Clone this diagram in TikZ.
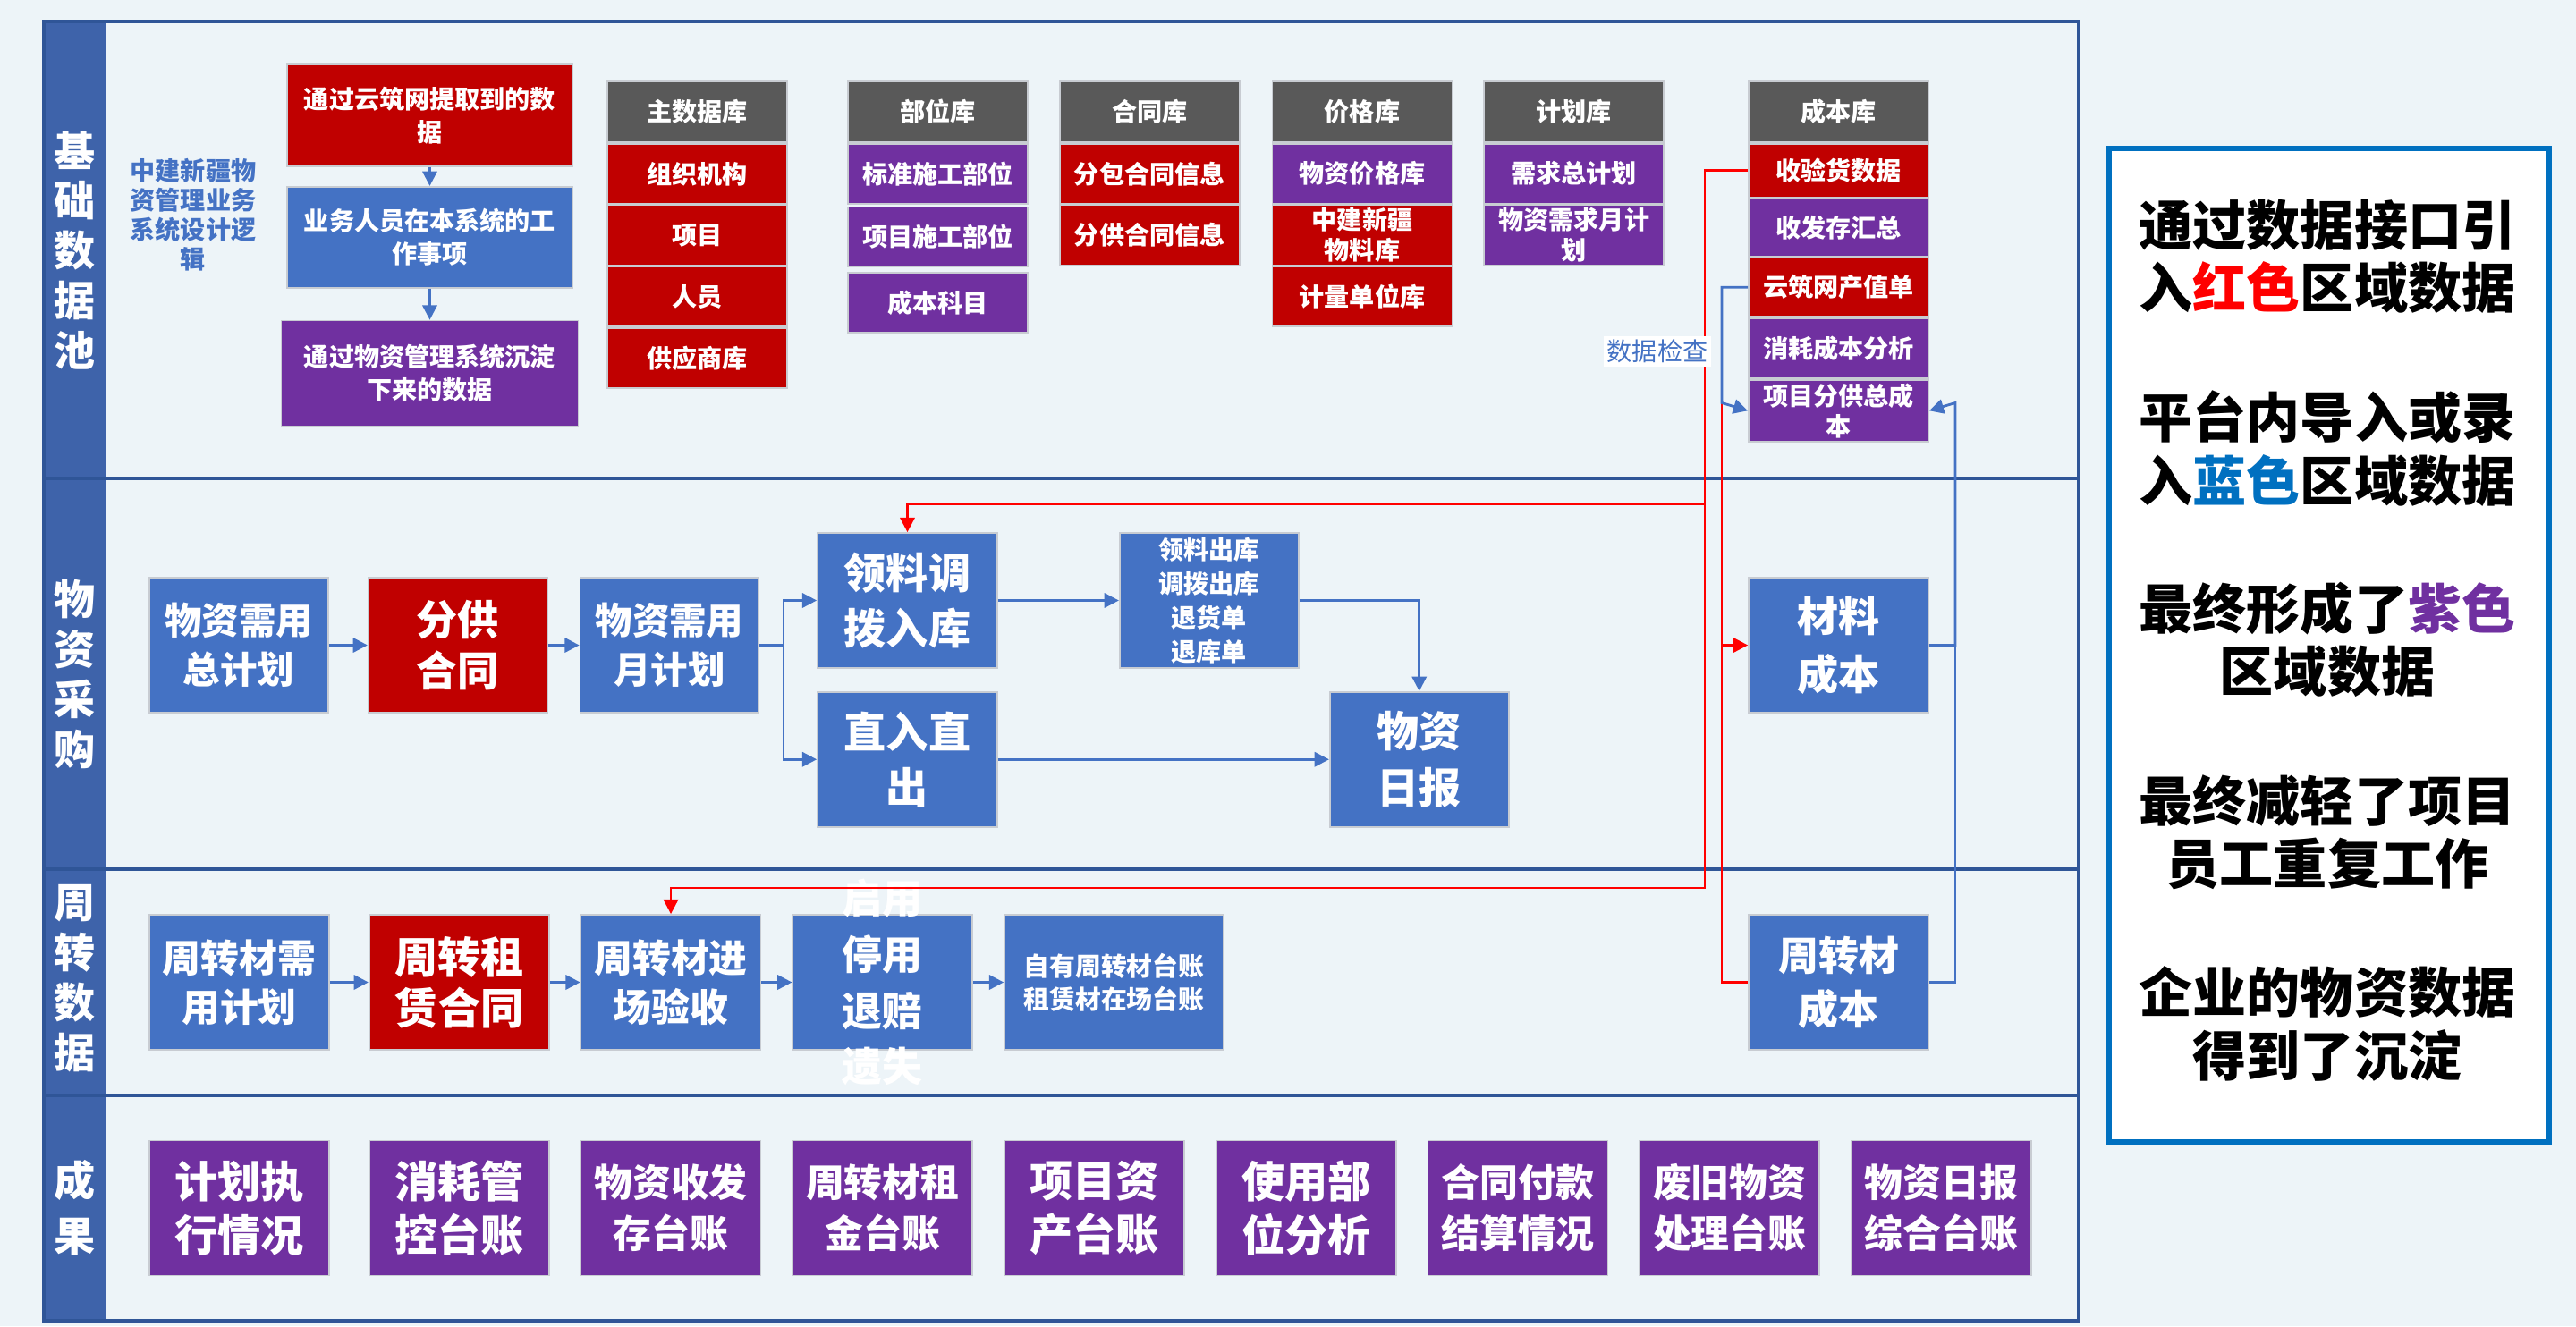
\documentclass[tikz,border=0pt]{standalone}
\usepackage{fontspec}
\usepackage{tikz}
\usetikzlibrary{
    arrows.meta,
    positioning
}
\newfontfamily\cjk{Noto Sans CJK SC}
\newcommand{\txtsize}[2]{\fontsize{#1pt}{#2pt}\selectfont}
\definecolor{PageBg}{RGB}{237,244,248}
\definecolor{FrameBlue}{RGB}{47,85,151}
\definecolor{BandBlue}{RGB}{62,99,170}
\definecolor{BoxBlue}{RGB}{68,114,196}
\definecolor{BoxRed}{RGB}{192,0,0}
\definecolor{BoxPurple}{RGB}{112,48,160}
\definecolor{HeadGray}{RGB}{89,89,89}
\definecolor{CellEdge}{RGB}{200,204,210}
\definecolor{LinkRed}{RGB}{255,0,0}
\definecolor{PanelBlue}{RGB}{0,112,192}

\begin{document}
\begin{tikzpicture}[
    >={Triangle[length=4.6pt,width=4.6pt]},
    cell/.style={draw=CellEdge, line width=0.5pt, text=white, align=center,
        inner sep=0pt, minimum width=2.01cm, minimum height=0.67cm,
        font=\cjk\bfseries\txtsize{8}{9.7}},
    headcell/.style={cell, fill=HeadGray, minimum height=0.68cm},
    redcell/.style={cell, fill=BoxRed},
    purplecell/.style={cell, fill=BoxPurple},
    flow/.style={draw=CellEdge, line width=0.5pt, text=white, align=center,
        inner sep=0pt, minimum width=2.01cm, minimum height=1.51cm,
        font=\cjk\bfseries\txtsize{13.4}{17.6}},
    blueflow/.style={flow, fill=BoxBlue},
    redflow/.style={flow, fill=BoxRed},
    purpleflow/.style={flow, fill=BoxPurple},
    wide/.style={font=\cjk\bfseries\txtsize{12.2}{16.2}},
    small/.style={font=\cjk\bfseries\txtsize{8}{10.5}},
    bandlabel/.style={text=white, align=center, inner sep=0pt,
        font=\cjk\bfseries\txtsize{13.1}{15.9}},
    blueline/.style={draw=BoxBlue, line width=0.8pt},
    redline/.style={draw=LinkRed, line width=0.8pt},
    paneltext/.style={align=center, inner sep=0pt,
        font=\cjk\bfseries\txtsize{17.1}{20}}
]

% page, frame and swim lanes
\useasboundingbox (0,0) rectangle (28.8,-14.83);
\fill[PageBg] (0,0) rectangle (28.8,-14.83);
\fill[BandBlue] (0.49,-0.24) rectangle (1.18,-14.77);
\draw[FrameBlue, line width=1pt] (0.49,-0.24) rectangle (23.24,-14.77);
\draw[FrameBlue, line width=1pt] (0.49,-5.35) -- (23.24,-5.35);
\draw[FrameBlue, line width=1pt] (0.49,-9.72) -- (23.24,-9.72);
\draw[FrameBlue, line width=1pt] (0.49,-12.25) -- (23.24,-12.25);

\node[bandlabel] (lblbase) at (0.835,-2.80) {基\\础\\数\\据\\池};
\node[bandlabel] (lblbuy) at (0.835,-7.54) {物\\资\\采\\购};
\node[bandlabel] (lblturn) at (0.835,-10.94) {周\\转\\数\\据};
\node[bandlabel, font=\cjk\bfseries\txtsize{13.1}{17.6}] (lblresult) at (0.835,-13.51) {成\\果};

% data pool
\node[align=center, inner sep=0pt, text=BoxBlue,
    font=\cjk\bfseries\txtsize{8}{9.4}] (logic) at (2.16,-2.40)
    {中建新疆物\\资管理业务\\系统设计逻\\辑};

\node[redflow, small, minimum width=3.19cm, minimum height=1.14cm] (yzwsrc) at (4.805,-1.29) {通过云筑网提取到的数\\据};
\node[blueflow, small, minimum width=3.19cm, minimum height=1.13cm, below=0.21cm of yzwsrc] (userwork) {业务人员在本系统的工\\作事项};
\node[purpleflow, small, minimum width=3.32cm, minimum height=1.18cm, below=0.35cm of userwork] (sysdata) {通过物资管理系统沉淀\\下来的数据};

\draw[blueline,->] (yzwsrc) -- (userwork);
\draw[blueline,->] (userwork) -- (sysdata);

\node[headcell] (hdrmain) at (7.795,-1.25) {主数据库};
\node[redcell, below=0pt of hdrmain] (orgunit) {组织机构};
\node[redcell, below=0pt of orgunit] (project) {项目};
\node[redcell, below=0pt of project] (staff) {人员};
\node[redcell, below=0pt of staff] (supplier) {供应商库};

\node[headcell] (hdrpart) at (10.485,-1.25) {部位库};
\node[purplecell, below=0pt of hdrpart] (stdpart) {标准施工部位};
\node[purplecell, below=0.02cm of stdpart] (prjpart) {项目施工部位};
\node[purplecell, below=0.05cm of prjpart] (costsubj) {成本科目};

\node[headcell, right=0.34cm of hdrpart] (hdrcontract) {合同库};
\node[redcell, below=0pt of hdrcontract] (subcontract) {分包合同信息};
\node[redcell, below=0pt of subcontract] (supcontract) {分供合同信息};

\node[headcell, right=0.35cm of hdrcontract] (hdrprice) {价格库};
\node[purplecell, below=0pt of hdrprice] (matprice) {物资价格库};
\node[redcell, below=0pt of matprice] (matlib) {中建新疆\\物料库};
\node[redcell, below=0pt of matlib] (unitlib) {计量单位库};

\node[headcell, right=0.34cm of hdrprice] (hdrplan) {计划库};
\node[purplecell, below=0pt of hdrplan] (totplan) {需求总计划};
\node[purplecell, below=0pt of totplan] (monplan) {物资需求月计\\划};

\node[headcell] (hdrcost) at (20.555,-1.25) {成本库};
\node[redcell, below=0pt of hdrcost, minimum height=0.60cm] (receipt) {收验货数据};
\node[purplecell, below=0pt of receipt, minimum height=0.64cm] (stocksum) {收发存汇总};
\node[redcell, below=0pt of stocksum, minimum height=0.66cm] (outputval) {云筑网产值单};
\node[purplecell, below=0pt of outputval] (usecost) {消耗成本分析};
\node[purplecell, below=0pt of usecost, minimum height=0.69cm] (subcost) {项目分供总成\\本};

% purchasing
\node[blueflow, font=\cjk\bfseries\txtsize{11.8}{15.6}, minimum width=2cm] (totalplan) at (2.67,-7.215) {物资需用\\总计划};
\node[redflow, font=\cjk\bfseries\txtsize{13.1}{16.2}, minimum width=2cm, right=0.43cm of totalplan] (subsupply) {分供\\合同};
\node[blueflow, font=\cjk\bfseries\txtsize{11.8}{15.6}, minimum width=2cm, right=0.35cm of subsupply] (monthplan) {物资需用\\月计划};
\node[blueflow] (pickin) at (10.145,-6.715) {领料调\\拨入库};
\node[blueflow, below=0.25cm of pickin] (directio) {直入直\\出};
\node[blueflow, font=\cjk\bfseries\txtsize{8}{10.8}, minimum width=2cm, right=1.35cm of pickin] (outlist) {领料出库\\调拨出库\\退货单\\退库单};
\node[blueflow, font=\cjk\bfseries\txtsize{13.4}{18}, minimum width=2cm, right=3.70cm of directio] (dailyrep) {物资\\日报};
\node[blueflow, font=\cjk\bfseries\txtsize{13.1}{18.5}] (matcost) at (20.555,-7.215) {材料\\成本};

\coordinate (splitx) at (8.76,-7.215);
\draw[blueline,->] (totalplan) -- (subsupply);
\draw[blueline,->] (subsupply) -- (monthplan);
\draw[blueline] (monthplan.east) -- (splitx);
\draw[blueline,->] (splitx) |- (pickin.west);
\draw[blueline,->] (splitx) |- (directio.west);
\draw[blueline,->] (pickin) -- (outlist);
\draw[blueline,->] (outlist.east) -| (dailyrep.north);
\draw[blueline,->] (directio) -- (dailyrep);

% turnover data
\node[blueflow, wide, font=\cjk\bfseries\txtsize{12.2}{15.6}] (turnplan) at (2.675,-10.985) {周转材需\\用计划};
\node[redflow, font=\cjk\bfseries\txtsize{13.7}{16.2}, right=0.43cm of turnplan] (rentcontract) {周转租\\赁合同};
\node[blueflow, font=\cjk\bfseries\txtsize{12.2}{15.6}, right=0.34cm of rentcontract] (turnaccept) {周转材进\\场验收};
\node[blueflow, right=0.34cm of turnaccept] (turnstate) {};
\node[text=white, align=center, inner sep=0pt, font=\cjk\bfseries\txtsize{12.8}{17.9}] (turnstatetxt) at (turnstate) {启用\\停用\\退赔\\遗失};
\node[blueflow, font=\cjk\bfseries\txtsize{8.2}{10.5}, minimum width=2.45cm, right=0.34cm of turnstate] (turnledger) {自有周转材台账\\租赁材在场台账};
\node[blueflow, font=\cjk\bfseries\txtsize{12.8}{17}] (turncost) at (20.555,-10.985) {周转材\\成本};

\draw[blueline,->] (turnplan) -- (rentcontract);
\draw[blueline,->] (rentcontract) -- (turnaccept);
\draw[blueline,->] (turnaccept) -- (turnstate);
\draw[blueline,->] (turnstate) -- (turnledger);

% results
\node[purpleflow, font=\cjk\bfseries\txtsize{13.7}{17.2}] (planexec) at (2.675,-13.51) {计划执\\行情况};
\node[purpleflow, font=\cjk\bfseries\txtsize{13.7}{17.2}, right=0.43cm of planexec] (usectrl) {消耗管\\控台账};
\node[purpleflow, wide, right=0.34cm of usectrl] (stockledger) {物资收发\\存台账};
\node[purpleflow, wide, right=0.34cm of stockledger] (rentledger) {周转材租\\金台账};
\node[purpleflow, font=\cjk\bfseries\txtsize{13.7}{17.2}, right=0.34cm of rentledger] (assetledger) {项目资\\产台账};
\node[purpleflow, font=\cjk\bfseries\txtsize{13.7}{17.2}, right=0.34cm of assetledger] (partanalysis) {使用部\\位分析};
\node[purpleflow, wide, right=0.34cm of partanalysis] (paysettle) {合同付款\\结算情况};
\node[purpleflow, wide, right=0.34cm of paysettle] (scrapledger) {废旧物资\\处理台账};
\node[purpleflow, wide, right=0.34cm of scrapledger] (dailyledger) {物资日报\\综合台账};

% cost links
\coordinate (chkmid) at (19.06,-5.64);
\coordinate (chkbot) at (19.06,-9.93);
\coordinate (cbjoin) at (19.25,-4.505);
\coordinate (cbright) at (21.86,-4.505);

\draw[redline,->] (receipt.west) -| (chkbot) -| (turnaccept.north);
\draw[redline,->] (chkmid) -| (pickin.north);
\draw[redline] (cbjoin) |- (turncost.west);
\draw[redline,->] (cbjoin |- matcost.west) -- (matcost.west);
\draw[blueline,->] (outputval.west) -| (cbjoin) -- (subcost.west);
\draw[blueline,->] (matcost.east) -| (cbright) -- (subcost.east);
\draw[blueline] (turncost.east) -| (cbright);

\node[fill=white, inner sep=1pt, text=BoxBlue, font=\cjk\txtsize{8}{9.6}] (chklabel) at (18.53,-3.93) {数据检查};

% summary panel
\node[draw=PanelBlue, line width=1.7pt, fill=white, minimum width=4.92cm,
    minimum height=11.11cm, inner sep=0pt] (summary) at (26.04,-7.215) {};
\node[paneltext] (sumred) at (26.02,-2.865) {通过数据接口引\\入\textcolor{LinkRed}{红色}区域数据};
\node[paneltext] (sumblue) at (26.02,-5.015) {平台内导入或录\\入\textcolor{PanelBlue}{蓝色}区域数据};
\node[paneltext] (sumpurple) at (26.02,-7.155) {最终形成了\textcolor{BoxPurple}{紫色}\\区域数据};
\node[paneltext] (sumwork) at (26.02,-9.31) {最终减轻了项目\\员工重复工作};
\node[paneltext] (sumkeep) at (26.02,-11.45) {企业的物资数据\\得到了沉淀};

\end{tikzpicture}
\end{document}
